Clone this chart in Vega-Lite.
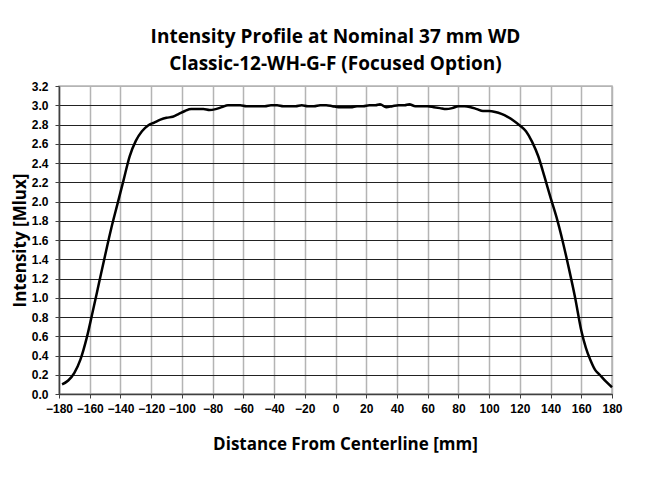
{
  "$schema": "https://vega.github.io/schema/vega-lite/v6.json",
  "width": 553,
  "height": 308,
  "autosize": {"type": "none"},
  "padding": {"left": 59, "top": 86, "right": 33, "bottom": 89},
  "background": "white",
  "title": {
    "text": ["Intensity Profile at Nominal 37 mm WD", "Classic-12-WH-G-F (Focused Option)"],
    "font": "Open Sans",
    "fontSize": 19,
    "fontWeight": "bold",
    "color": "#000000",
    "lineHeight": 27,
    "anchor": "middle",
    "offset": 6
  },
  "data": {
    "values": [
      {"d": -178, "v": 0.10}, {"d": -174, "v": 0.14}, {"d": -170, "v": 0.22}, {"d": -166, "v": 0.36},
      {"d": -162, "v": 0.58}, {"d": -158, "v": 0.86}, {"d": -154, "v": 1.15}, {"d": -150, "v": 1.44},
      {"d": -146, "v": 1.72}, {"d": -142, "v": 1.97}, {"d": -138, "v": 2.22}, {"d": -134, "v": 2.47},
      {"d": -130, "v": 2.63}, {"d": -126, "v": 2.73}, {"d": -122, "v": 2.79}, {"d": -118, "v": 2.82},
      {"d": -114, "v": 2.85}, {"d": -110, "v": 2.87}, {"d": -106, "v": 2.88}, {"d": -102, "v": 2.91},
      {"d": -98, "v": 2.94}, {"d": -94, "v": 2.96}, {"d": -90, "v": 2.96}, {"d": -86, "v": 2.96},
      {"d": -82, "v": 2.95}, {"d": -78, "v": 2.96}, {"d": -74, "v": 2.98}, {"d": -70, "v": 3.00},
      {"d": -66, "v": 3.00}, {"d": -62, "v": 3.00}, {"d": -58, "v": 2.99}, {"d": -54, "v": 2.99},
      {"d": -50, "v": 2.99}, {"d": -46, "v": 2.99}, {"d": -42, "v": 3.00}, {"d": -38, "v": 3.00},
      {"d": -34, "v": 2.99}, {"d": -30, "v": 2.99}, {"d": -26, "v": 2.99}, {"d": -22, "v": 3.00},
      {"d": -18, "v": 2.99}, {"d": -14, "v": 2.99}, {"d": -10, "v": 3.00}, {"d": -6, "v": 3.00},
      {"d": -2, "v": 2.99}, {"d": 2, "v": 2.98}, {"d": 6, "v": 2.98}, {"d": 10, "v": 2.98},
      {"d": 14, "v": 2.99}, {"d": 18, "v": 2.99}, {"d": 22, "v": 3.00}, {"d": 26, "v": 3.00},
      {"d": 29, "v": 3.01}, {"d": 33, "v": 2.98}, {"d": 37, "v": 2.99}, {"d": 41, "v": 3.00},
      {"d": 45, "v": 3.00}, {"d": 48, "v": 3.01}, {"d": 52, "v": 2.99}, {"d": 56, "v": 2.99},
      {"d": 60, "v": 2.99}, {"d": 64, "v": 2.98}, {"d": 68, "v": 2.97}, {"d": 72, "v": 2.96},
      {"d": 76, "v": 2.97}, {"d": 80, "v": 2.99}, {"d": 84, "v": 2.99}, {"d": 88, "v": 2.98},
      {"d": 92, "v": 2.96}, {"d": 96, "v": 2.94}, {"d": 100, "v": 2.94}, {"d": 104, "v": 2.93},
      {"d": 108, "v": 2.91}, {"d": 112, "v": 2.88}, {"d": 116, "v": 2.84}, {"d": 120, "v": 2.79},
      {"d": 124, "v": 2.73}, {"d": 128, "v": 2.62}, {"d": 132, "v": 2.47}, {"d": 136, "v": 2.26},
      {"d": 140, "v": 2.04}, {"d": 144, "v": 1.83}, {"d": 148, "v": 1.58}, {"d": 152, "v": 1.30},
      {"d": 156, "v": 1.00}, {"d": 160, "v": 0.66}, {"d": 163, "v": 0.48}, {"d": 166, "v": 0.35},
      {"d": 169, "v": 0.25}, {"d": 172, "v": 0.20}, {"d": 176, "v": 0.13}, {"d": 180, "v": 0.07}
    ]
  },
  "mark": {"type": "line", "color": "#000000", "strokeWidth": 2.5, "interpolate": "monotone"},
  "encoding": {
    "x": {
      "field": "d",
      "type": "quantitative",
      "scale": {"domain": [-180, 180], "nice": false, "zero": false},
      "axis": {
        "values": [-180, -160, -140, -120, -100, -80, -60, -40, -20, 0, 20, 40, 60, 80, 100, 120, 140, 160, 180],
        "title": "Distance From Centerline [mm]",
        "titleFont": "Open Sans",
        "titleFontSize": 17,
        "titleFontWeight": "bold",
        "titleColor": "#000000",
        "titlePadding": 22,
        "titleX": 286,
        "labelFont": "Liberation Sans",
        "labelFontSize": 12,
        "labelFontWeight": "bold",
        "labelColor": "#000000",
        "labelPadding": 5,
        "labelFlush": false,
        "tickColor": "#404040",
        "tickSize": 4,
        "domainColor": "#404040",
        "domainWidth": 1.5,
        "gridColor": "#b4b4b4",
        "gridWidth": 1.5,
        "gridOpacity": 1
      }
    },
    "y": {
      "field": "v",
      "type": "quantitative",
      "scale": {"domain": [0, 3.2], "nice": false},
      "axis": {
        "values": [0, 0.2, 0.4, 0.6, 0.8, 1.0, 1.2, 1.4, 1.6, 1.8, 2.0, 2.2, 2.4, 2.6, 2.8, 3.0, 3.2],
        "format": ".1f",
        "title": "Intensity [Mlux]",
        "titleFont": "Open Sans",
        "titleFontSize": 17,
        "titleFontWeight": "bold",
        "titleColor": "#000000",
        "titlePadding": 2,
        "labelFont": "Liberation Sans",
        "labelFontSize": 12,
        "labelFontWeight": "bold",
        "labelColor": "#000000",
        "labelPadding": 7,
        "labelFlush": false,
        "tickColor": "#404040",
        "tickSize": 4,
        "domainColor": "#404040",
        "domainWidth": 1.5,
        "gridColor": {"condition": {"test": "datum.value >= 3.2", "value": "#b4b4b4"}, "value": "#222222"},
        "gridWidth": 1.2,
        "gridOpacity": 1
      }
    }
  },
  "config": {
    "view": {"stroke": "#b4b4b4", "strokeWidth": 1.5}
  }
}
